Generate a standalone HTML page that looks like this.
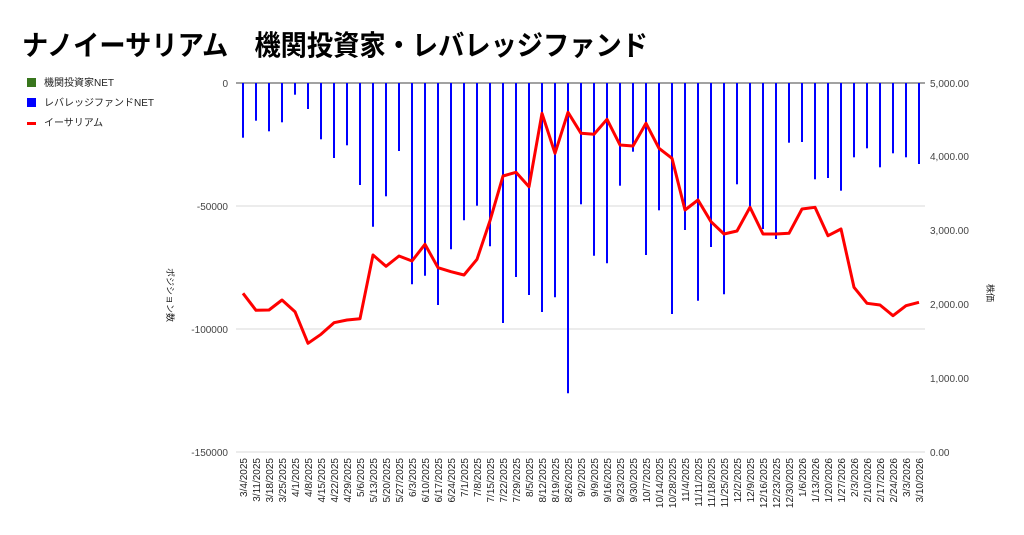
<!DOCTYPE html>
<html><head><meta charset="utf-8"><style>
html,body{margin:0;padding:0;background:#fff;}
svg{display:block;font-family:"Liberation Sans","Noto Sans CJK JP",sans-serif;}
</style></head><body>
<svg width="1024" height="535" viewBox="0 0 1024 535" xmlns="http://www.w3.org/2000/svg">
<text x="22" y="55" font-size="28" font-weight="bold" textLength="626" lengthAdjust="spacingAndGlyphs" fill="#000">ナノイーサリアム　機関投資家・レバレッジファンド</text>
<!-- legend -->
<rect x="27" y="78" width="9" height="9" fill="#38761d"/>
<text x="44" y="86" font-size="10" fill="#222">機関投資家NET</text>
<rect x="27" y="98" width="9" height="9" fill="#0000ff"/>
<text x="44" y="106" font-size="10" fill="#222">レバレッジファンドNET</text>
<rect x="27" y="122" width="9" height="3" fill="#ff0000"/>
<text x="44" y="126" font-size="10" fill="#222">イーサリアム</text>
<!-- grid -->
<line x1="236" y1="206" x2="925" y2="206" stroke="#d9d9d9"/>
<line x1="236" y1="329" x2="925" y2="329" stroke="#d9d9d9"/>
<line x1="236" y1="452" x2="925" y2="452" stroke="#d9d9d9"/>
<line x1="236" y1="83" x2="925" y2="83" stroke="#444"/>
<!-- left axis -->
<g font-size="10" fill="#444" text-anchor="end">
<text x="228" y="87">0</text>
<text x="228" y="210">-50000</text>
<text x="228" y="333">-100000</text>
<text x="228" y="456">-150000</text>
</g>
<g font-size="10" fill="#444">
<text x="930" y="87">5,000.00</text>
<text x="930" y="160">4,000.00</text>
<text x="930" y="234">3,000.00</text>
<text x="930" y="308">2,000.00</text>
<text x="930" y="382">1,000.00</text>
<text x="930" y="456">0.00</text>
</g>
<text transform="translate(167,268) rotate(90)" font-size="9" fill="#222">ポジション数</text>
<text transform="translate(987,284) rotate(90)" font-size="9" fill="#222">株価</text>
<!-- bars -->
<g stroke="#0000ff" stroke-width="2">
<line x1="243" y1="83" x2="243" y2="137.7"/>
<line x1="256" y1="83" x2="256" y2="120.7"/>
<line x1="269" y1="83" x2="269" y2="131.3"/>
<line x1="282" y1="83" x2="282" y2="122.3"/>
<line x1="295" y1="83" x2="295" y2="94.7"/>
<line x1="308" y1="83" x2="308" y2="109"/>
<line x1="321" y1="83" x2="321" y2="139.3"/>
<line x1="334" y1="83" x2="334" y2="158"/>
<line x1="347" y1="83" x2="347" y2="145.3"/>
<line x1="360" y1="83" x2="360" y2="185"/>
<line x1="373" y1="83" x2="373" y2="226.7"/>
<line x1="386" y1="83" x2="386" y2="196.3"/>
<line x1="399" y1="83" x2="399" y2="151"/>
<line x1="412" y1="83" x2="412" y2="284.3"/>
<line x1="425" y1="83" x2="425" y2="275.7"/>
<line x1="438" y1="83" x2="438" y2="305"/>
<line x1="451" y1="83" x2="451" y2="249.3"/>
<line x1="464" y1="83" x2="464" y2="220.3"/>
<line x1="477" y1="83" x2="477" y2="205.7"/>
<line x1="490" y1="83" x2="490" y2="246.3"/>
<line x1="503" y1="83" x2="503" y2="323"/>
<line x1="516" y1="83" x2="516" y2="277"/>
<line x1="529" y1="83" x2="529" y2="295"/>
<line x1="542" y1="83" x2="542" y2="312"/>
<line x1="555" y1="83" x2="555" y2="297.3"/>
<line x1="568" y1="83" x2="568" y2="393.3"/>
<line x1="581" y1="83" x2="581" y2="204.3"/>
<line x1="594" y1="83" x2="594" y2="255.7"/>
<line x1="607" y1="83" x2="607" y2="263.3"/>
<line x1="620" y1="83" x2="620" y2="185.7"/>
<line x1="633" y1="83" x2="633" y2="151.7"/>
<line x1="646" y1="83" x2="646" y2="255"/>
<line x1="659" y1="83" x2="659" y2="210.3"/>
<line x1="672" y1="83" x2="672" y2="314"/>
<line x1="685" y1="83" x2="685" y2="230"/>
<line x1="698" y1="83" x2="698" y2="300.7"/>
<line x1="711" y1="83" x2="711" y2="247"/>
<line x1="724" y1="83" x2="724" y2="294.3"/>
<line x1="737" y1="83" x2="737" y2="184.3"/>
<line x1="750" y1="83" x2="750" y2="207"/>
<line x1="763" y1="83" x2="763" y2="229"/>
<line x1="776" y1="83" x2="776" y2="239"/>
<line x1="789" y1="83" x2="789" y2="142.7"/>
<line x1="802" y1="83" x2="802" y2="142"/>
<line x1="815" y1="83" x2="815" y2="179.3"/>
<line x1="828" y1="83" x2="828" y2="178"/>
<line x1="841" y1="83" x2="841" y2="190.7"/>
<line x1="854" y1="83" x2="854" y2="157.3"/>
<line x1="867" y1="83" x2="867" y2="148.3"/>
<line x1="880" y1="83" x2="880" y2="167.3"/>
<line x1="893" y1="83" x2="893" y2="153.3"/>
<line x1="906" y1="83" x2="906" y2="157.3"/>
<line x1="919" y1="83" x2="919" y2="164"/>
</g>
<!-- line -->
<polyline fill="none" stroke="#ff0000" stroke-width="3" stroke-linejoin="round" points="
243,293.3 256,310.3 269,310 282,300 295,311.7 308,343.3 321,334.3 334,322.7 347,320 360,318.7
373,255 386,266.3 399,256 412,261 425,244.3 438,267.7 451,271.7 464,275 477,259.3 490,220.7
503,176 516,172.3 529,186.7 542,113.3 555,153.3 568,112.3 581,133.3 594,134.3 607,119.3 620,145
633,146 646,123.3 659,148.3 672,158.3 685,210 698,200 711,221.7 724,234 737,231 750,207.3
763,234 776,234 789,233.3 802,209 815,207.3 828,235.7 841,229 854,287.3 867,303.3 880,305
893,315.7 906,305.7 919,302.3"/>
<!-- x labels -->
<g font-size="10" fill="#222" text-anchor="end">
<text transform="translate(247,458) rotate(-90)">3/4/2025</text>
<text transform="translate(260,458) rotate(-90)">3/11/2025</text>
<text transform="translate(273,458) rotate(-90)">3/18/2025</text>
<text transform="translate(286,458) rotate(-90)">3/25/2025</text>
<text transform="translate(299,458) rotate(-90)">4/1/2025</text>
<text transform="translate(312,458) rotate(-90)">4/8/2025</text>
<text transform="translate(325,458) rotate(-90)">4/15/2025</text>
<text transform="translate(338,458) rotate(-90)">4/22/2025</text>
<text transform="translate(351,458) rotate(-90)">4/29/2025</text>
<text transform="translate(364,458) rotate(-90)">5/6/2025</text>
<text transform="translate(377,458) rotate(-90)">5/13/2025</text>
<text transform="translate(390,458) rotate(-90)">5/20/2025</text>
<text transform="translate(403,458) rotate(-90)">5/27/2025</text>
<text transform="translate(416,458) rotate(-90)">6/3/2025</text>
<text transform="translate(429,458) rotate(-90)">6/10/2025</text>
<text transform="translate(442,458) rotate(-90)">6/17/2025</text>
<text transform="translate(455,458) rotate(-90)">6/24/2025</text>
<text transform="translate(468,458) rotate(-90)">7/1/2025</text>
<text transform="translate(481,458) rotate(-90)">7/8/2025</text>
<text transform="translate(494,458) rotate(-90)">7/15/2025</text>
<text transform="translate(507,458) rotate(-90)">7/22/2025</text>
<text transform="translate(520,458) rotate(-90)">7/29/2025</text>
<text transform="translate(533,458) rotate(-90)">8/5/2025</text>
<text transform="translate(546,458) rotate(-90)">8/12/2025</text>
<text transform="translate(559,458) rotate(-90)">8/19/2025</text>
<text transform="translate(572,458) rotate(-90)">8/26/2025</text>
<text transform="translate(585,458) rotate(-90)">9/2/2025</text>
<text transform="translate(598,458) rotate(-90)">9/9/2025</text>
<text transform="translate(611,458) rotate(-90)">9/16/2025</text>
<text transform="translate(624,458) rotate(-90)">9/23/2025</text>
<text transform="translate(637,458) rotate(-90)">9/30/2025</text>
<text transform="translate(650,458) rotate(-90)">10/7/2025</text>
<text transform="translate(663,458) rotate(-90)">10/14/2025</text>
<text transform="translate(676,458) rotate(-90)">10/28/2025</text>
<text transform="translate(689,458) rotate(-90)">11/4/2025</text>
<text transform="translate(702,458) rotate(-90)">11/11/2025</text>
<text transform="translate(715,458) rotate(-90)">11/18/2025</text>
<text transform="translate(728,458) rotate(-90)">11/25/2025</text>
<text transform="translate(741,458) rotate(-90)">12/2/2025</text>
<text transform="translate(754,458) rotate(-90)">12/9/2025</text>
<text transform="translate(767,458) rotate(-90)">12/16/2025</text>
<text transform="translate(780,458) rotate(-90)">12/23/2025</text>
<text transform="translate(793,458) rotate(-90)">12/30/2025</text>
<text transform="translate(806,458) rotate(-90)">1/6/2026</text>
<text transform="translate(819,458) rotate(-90)">1/13/2026</text>
<text transform="translate(832,458) rotate(-90)">1/20/2026</text>
<text transform="translate(845,458) rotate(-90)">1/27/2026</text>
<text transform="translate(858,458) rotate(-90)">2/3/2026</text>
<text transform="translate(871,458) rotate(-90)">2/10/2026</text>
<text transform="translate(884,458) rotate(-90)">2/17/2026</text>
<text transform="translate(897,458) rotate(-90)">2/24/2026</text>
<text transform="translate(910,458) rotate(-90)">3/3/2026</text>
<text transform="translate(923,458) rotate(-90)">3/10/2026</text>
</g>
</svg>
</body></html>
